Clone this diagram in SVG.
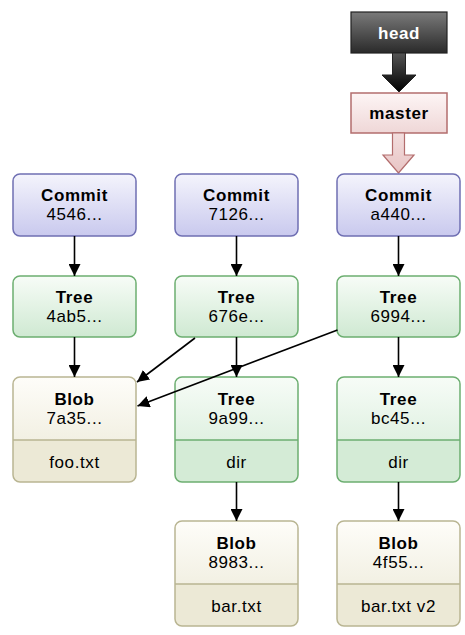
<svg xmlns="http://www.w3.org/2000/svg" width="465" height="635" viewBox="0 0 465 635">
<defs>
<linearGradient id="gCommit" x1="0" y1="0" x2="0" y2="1"><stop offset="0" stop-color="#f4f4fc"/><stop offset="1" stop-color="#c9c9ee"/></linearGradient>
<linearGradient id="gTree" x1="0" y1="0" x2="0" y2="1"><stop offset="0" stop-color="#f7fcf7"/><stop offset="1" stop-color="#cfe9d2"/></linearGradient>
<linearGradient id="gTreeTop" x1="0" y1="0" x2="0" y2="1"><stop offset="0" stop-color="#f7fcf7"/><stop offset="1" stop-color="#e0f1e2"/></linearGradient>
<linearGradient id="gBlob" x1="0" y1="0" x2="0" y2="1"><stop offset="0" stop-color="#fefdf9"/><stop offset="1" stop-color="#f2f0e3"/></linearGradient>
<linearGradient id="gHead" x1="0" y1="0" x2="0" y2="1"><stop offset="0" stop-color="#7a7a7a"/><stop offset="1" stop-color="#2a2a2a"/></linearGradient>
<linearGradient id="gHeadArrow" x1="0" y1="0" x2="0" y2="1"><stop offset="0" stop-color="#555"/><stop offset="1" stop-color="#000"/></linearGradient>
<linearGradient id="gMaster" x1="0" y1="0" x2="0" y2="1"><stop offset="0" stop-color="#fdf5f5"/><stop offset="1" stop-color="#efd7d7"/></linearGradient>
<linearGradient id="gMasterArrow" x1="0" y1="0" x2="0" y2="1"><stop offset="0" stop-color="#f3dede"/><stop offset="1" stop-color="#e8c4c4"/></linearGradient>
<marker id="arr" markerWidth="12" markerHeight="12" viewBox="0 0 12 12" refX="12" refY="6" orient="auto" markerUnits="userSpaceOnUse">
<path d="M0,0 L12,6 L0,12 Z" fill="#000"/>
</marker>
</defs>
<style>
text{font-family:"Liberation Sans",Arial,sans-serif;font-size:17px;letter-spacing:0.6px;text-anchor:middle;fill:#000}
.t{font-weight:bold}
.commit{fill:url(#gCommit);stroke:#6f6fb3;stroke-width:1.5}
.tree{fill:url(#gTree);stroke:#6cae70;stroke-width:1.5}
.treetop{fill:url(#gTreeTop)}
.treebot{fill:#d4ebd6}
.treeframe{fill:none;stroke:#6cae70;stroke-width:1.5}
.blobtop{fill:url(#gBlob)}
.blobbot{fill:#ece9d6}
.blobframe{fill:none;stroke:#b9b592;stroke-width:1.5}
.tdiv{stroke:#6cae70;stroke-width:1.5}
.bdiv{stroke:#b9b592;stroke-width:1.5}
.conn line{stroke:#000;stroke-width:1.6;marker-end:url(#arr)}
</style>

<g id="head">
<rect x="351" y="12" width="96" height="41" fill="url(#gHead)" stroke="#222" stroke-width="1.2"/>
<text x="399" y="38.5" class="t" fill="#fff" style="fill:#fff">head</text>
</g>
<g id="head-arrow">
<polygon points="392.5,53 405.5,53 405.5,75 416,75 399,92 382,75 392.5,75" fill="url(#gHeadArrow)" stroke="#222" stroke-width="1"/>
</g>
<g id="master">
<rect x="351" y="93" width="96" height="40" fill="url(#gMaster)" stroke="#b36d6d" stroke-width="1.5"/>
<text x="399" y="119" class="t">master</text>
</g>
<g id="master-arrow">
<polygon points="392.5,133 404.5,133 404.5,155 414,155 398.5,173 383,155 392.5,155" fill="url(#gMasterArrow)" stroke="#b36d6d" stroke-width="1.2"/>
</g>

<g id="commit-4546">
<rect x="13" y="174" width="123" height="62" rx="7" class="commit"/>
<text x="74.5" y="201" class="t">Commit</text>
<text x="74.5" y="220">4546...</text>
</g>
<g id="commit-7126">
<rect x="175" y="174" width="123" height="62" rx="7" class="commit"/>
<text x="236.5" y="201" class="t">Commit</text>
<text x="236.5" y="220">7126...</text>
</g>
<g id="commit-a440">
<rect x="337" y="174" width="123" height="62" rx="7" class="commit"/>
<text x="398.5" y="201" class="t">Commit</text>
<text x="398.5" y="220">a440...</text>
</g>

<g id="tree-4ab5">
<rect x="13" y="276" width="123" height="61" rx="7" class="tree"/>
<text x="74.5" y="303" class="t">Tree</text>
<text x="74.5" y="322">4ab5...</text>
</g>
<g id="tree-676e">
<rect x="175" y="276" width="123" height="61" rx="7" class="tree"/>
<text x="236.5" y="303" class="t">Tree</text>
<text x="236.5" y="322">676e...</text>
</g>
<g id="tree-6994">
<rect x="337" y="276" width="123" height="61" rx="7" class="tree"/>
<text x="398.5" y="303" class="t">Tree</text>
<text x="398.5" y="322">6994...</text>
</g>

<g id="blob-7a35">
<path d="M13,440 V384 a7,7 0 0 1 7,-7 H129 a7,7 0 0 1 7,7 V440 Z" class="blobtop"/>
<path d="M13,440 H136 V475 a7,7 0 0 1 -7,7 H20 a7,7 0 0 1 -7,-7 Z" class="blobbot"/>
<line x1="13" y1="440" x2="136" y2="440" class="bdiv"/>
<rect x="13" y="377" width="123" height="105" rx="7" class="blobframe"/>
<text x="74.5" y="405" class="t">Blob</text>
<text x="74.5" y="424">7a35...</text>
<text x="74.5" y="468">foo.txt</text>
</g>
<g id="tree-9a99">
<path d="M175,440 V384 a7,7 0 0 1 7,-7 H291 a7,7 0 0 1 7,7 V440 Z" class="treetop"/>
<path d="M175,440 H298 V475 a7,7 0 0 1 -7,7 H182 a7,7 0 0 1 -7,-7 Z" class="treebot"/>
<line x1="175" y1="440" x2="298" y2="440" class="tdiv"/>
<rect x="175" y="377" width="123" height="105" rx="7" class="treeframe"/>
<text x="236.5" y="405" class="t">Tree</text>
<text x="236.5" y="424">9a99...</text>
<text x="236.5" y="468">dir</text>
</g>
<g id="tree-bc45">
<path d="M337,440 V384 a7,7 0 0 1 7,-7 H453 a7,7 0 0 1 7,7 V440 Z" class="treetop"/>
<path d="M337,440 H460 V475 a7,7 0 0 1 -7,7 H344 a7,7 0 0 1 -7,-7 Z" class="treebot"/>
<line x1="337" y1="440" x2="460" y2="440" class="tdiv"/>
<rect x="337" y="377" width="123" height="105" rx="7" class="treeframe"/>
<text x="398.5" y="405" class="t">Tree</text>
<text x="398.5" y="424">bc45...</text>
<text x="398.5" y="468">dir</text>
</g>

<g id="blob-8983">
<path d="M175,584 V528 a7,7 0 0 1 7,-7 H291 a7,7 0 0 1 7,7 V584 Z" class="blobtop"/>
<path d="M175,584 H298 V619 a7,7 0 0 1 -7,7 H182 a7,7 0 0 1 -7,-7 Z" class="blobbot"/>
<line x1="175" y1="584" x2="298" y2="584" class="bdiv"/>
<rect x="175" y="521" width="123" height="105" rx="7" class="blobframe"/>
<text x="236.5" y="549" class="t">Blob</text>
<text x="236.5" y="568">8983...</text>
<text x="236.5" y="612">bar.txt</text>
</g>
<g id="blob-4f55">
<path d="M337,584 V528 a7,7 0 0 1 7,-7 H453 a7,7 0 0 1 7,7 V584 Z" class="blobtop"/>
<path d="M337,584 H460 V619 a7,7 0 0 1 -7,7 H344 a7,7 0 0 1 -7,-7 Z" class="blobbot"/>
<line x1="337" y1="584" x2="460" y2="584" class="bdiv"/>
<rect x="337" y="521" width="123" height="105" rx="7" class="blobframe"/>
<text x="398.5" y="549" class="t">Blob</text>
<text x="398.5" y="568">4f55...</text>
<text x="398.5" y="612">bar.txt v2</text>
</g>

<g id="connectors" class="conn">
<line x1="74.5" y1="236" x2="74.5" y2="276"/>
<line x1="236.5" y1="236" x2="236.5" y2="276"/>
<line x1="398.5" y1="236" x2="398.5" y2="276"/>
<line x1="74.5" y1="337" x2="74.5" y2="377"/>
<line x1="236.5" y1="337" x2="236.5" y2="377"/>
<line x1="398.5" y1="337" x2="398.5" y2="377"/>
<line x1="236.5" y1="482" x2="236.5" y2="521"/>
<line x1="398.5" y1="482" x2="398.5" y2="521"/>
<line x1="195" y1="338" x2="137" y2="382"/>
<line x1="337.5" y1="330" x2="137.5" y2="406"/>
</g>
</svg>
